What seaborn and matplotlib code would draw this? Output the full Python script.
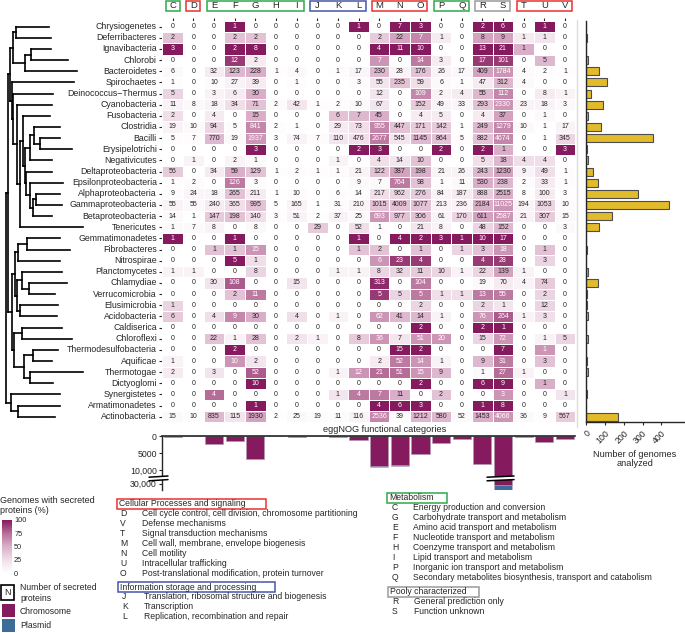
import numpy as np
import pandas as pd
import matplotlib
matplotlib.use("Agg")
import matplotlib.pyplot as plt
import seaborn as sns
from matplotlib.colors import LinearSegmentedColormap, Normalize
from matplotlib.cm import ScalarMappable
from matplotlib.patches import Rectangle, Polygon
from matplotlib.lines import Line2D

# ---------------- data ----------------
taxa = ["Chrysiogenetes", "Deferribacteres", "Ignavibacteria", "Chlorobi", "Bacteroidetes",
        "Spirochaetes", "Deinococcus\u2212Thermus", "Cyanobacteria", "Fusobacteria", "Clostridia",
        "Bacilli", "Erysipelotrichi", "Negativicutes", "Deltaproteobacteria", "Epsilonproteobacteria",
        "Alphaproteobacteria", "Gammaproteobacteria", "Betaproteobacteria", "Tenericutes",
        "Gemmatimonadetes", "Fibrobacteres", "Nitrospirae", "Planctomycetes", "Chlamydiae",
        "Verrucomicrobia", "Elusimicrobia", "Acidobacteria", "Caldiserica", "Chloroflexi",
        "Thermodesulfobacteria", "Aquificae", "Thermotogae", "Dictyoglomi", "Synergistetes",
        "Armatimonadetes", "Actinobacteria"]

categories = ["C", "D", "E", "F", "G", "H", "I", "J", "K", "L",
              "M", "N", "O", "P", "Q", "R", "S", "T", "U", "V"]

# number of secreted proteins (cell annotations)
counts = [
    [0, 0, 0, 1, 0, 0, 0, 0, 0, 1, 0, 7, 3, 0, 0, 2, 6, 0, 1, 0],
    [2, 0, 0, 2, 2, 0, 0, 0, 0, 0, 2, 22, 7, 1, 0, 8, 9, 1, 1, 0],
    [3, 0, 0, 2, 8, 0, 0, 0, 0, 0, 4, 11, 10, 0, 0, 13, 21, 1, 0, 0],
    [0, 0, 0, 12, 2, 0, 0, 0, 0, 0, 7, 0, 14, 3, 0, 17, 101, 0, 5, 0],
    [6, 0, 32, 123, 228, 1, 4, 0, 1, 17, 230, 28, 176, 26, 17, 409, 1784, 4, 2, 1],
    [1, 0, 10, 27, 39, 0, 1, 0, 0, 3, 55, 235, 59, 6, 1, 47, 312, 4, 0, 0],
    [5, 0, 3, 6, 30, 0, 0, 0, 0, 0, 12, 0, 109, 2, 4, 55, 112, 0, 8, 1],
    [11, 8, 18, 34, 71, 2, 42, 1, 2, 10, 67, 0, 152, 49, 33, 293, 2330, 23, 18, 3],
    [2, 0, 4, 0, 15, 0, 0, 0, 6, 7, 45, 0, 4, 5, 0, 4, 37, 0, 1, 0],
    [19, 10, 94, 5, 841, 2, 1, 0, 29, 73, 955, 447, 171, 142, 1, 249, 1279, 10, 1, 17],
    [5, 7, 770, 19, 1937, 3, 74, 7, 110, 476, 2677, 545, 1145, 864, 5, 882, 4674, 0, 1, 345],
    [0, 0, 0, 0, 3, 0, 0, 0, 0, 2, 3, 0, 0, 2, 0, 2, 1, 0, 0, 3],
    [0, 1, 0, 2, 1, 0, 0, 0, 1, 0, 4, 14, 10, 0, 0, 5, 18, 4, 4, 0],
    [56, 0, 34, 59, 129, 1, 2, 1, 1, 21, 122, 387, 198, 21, 26, 243, 1230, 9, 49, 1],
    [1, 2, 0, 126, 3, 0, 0, 0, 0, 9, 7, 764, 98, 1, 11, 530, 238, 2, 33, 1],
    [9, 24, 18, 265, 211, 1, 10, 0, 6, 14, 217, 962, 276, 84, 187, 888, 2515, 8, 100, 3],
    [55, 55, 240, 365, 995, 5, 165, 1, 31, 210, 1015, 4009, 1077, 213, 236, 2184, 11025, 194, 1053, 10],
    [14, 1, 147, 198, 140, 3, 51, 2, 37, 25, 693, 977, 306, 61, 170, 611, 2587, 21, 307, 15],
    [1, 7, 8, 0, 8, 0, 0, 29, 0, 52, 1, 0, 21, 8, 0, 48, 152, 0, 0, 3],
    [1, 0, 0, 1, 0, 0, 0, 0, 0, 1, 0, 4, 2, 3, 1, 10, 17, 0, 0, 0],
    [0, 0, 1, 1, 15, 0, 0, 0, 0, 1, 2, 0, 1, 0, 1, 3, 18, 0, 1, 0],
    [0, 0, 0, 5, 1, 0, 0, 0, 0, 0, 6, 23, 4, 0, 0, 4, 28, 0, 3, 0],
    [1, 1, 0, 0, 8, 0, 0, 0, 1, 1, 8, 32, 11, 10, 1, 22, 139, 1, 0, 0],
    [0, 0, 30, 108, 0, 0, 15, 0, 0, 0, 313, 0, 104, 0, 0, 19, 70, 4, 74, 0],
    [0, 0, 0, 2, 11, 0, 0, 0, 0, 0, 5, 5, 5, 1, 1, 13, 55, 0, 2, 0],
    [1, 0, 0, 0, 0, 0, 0, 0, 0, 0, 0, 0, 2, 0, 0, 2, 1, 0, 12, 0],
    [6, 0, 4, 9, 30, 0, 4, 0, 1, 0, 62, 41, 14, 1, 0, 76, 264, 1, 3, 0],
    [0, 0, 0, 0, 0, 0, 0, 0, 0, 0, 0, 0, 2, 0, 0, 2, 1, 0, 0, 0],
    [0, 0, 22, 1, 28, 0, 2, 1, 0, 8, 36, 7, 51, 20, 0, 15, 72, 0, 1, 5],
    [0, 0, 0, 2, 0, 0, 0, 0, 0, 0, 0, 15, 2, 0, 0, 0, 7, 0, 1, 0],
    [1, 0, 0, 10, 2, 0, 0, 0, 0, 0, 2, 52, 14, 1, 0, 9, 31, 0, 3, 0],
    [2, 0, 3, 0, 52, 0, 0, 0, 1, 12, 21, 51, 15, 9, 0, 1, 27, 1, 0, 0],
    [0, 0, 0, 0, 10, 0, 0, 0, 0, 0, 0, 0, 2, 0, 0, 6, 9, 0, 1, 0],
    [0, 0, 4, 0, 0, 0, 0, 0, 1, 4, 7, 11, 0, 2, 0, 0, 3, 0, 0, 1],
    [0, 0, 0, 0, 1, 0, 0, 0, 0, 0, 4, 6, 3, 0, 0, 1, 8, 0, 0, 0],
    [15, 10, 835, 115, 1930, 2, 25, 19, 11, 116, 2536, 39, 1212, 580, 52, 1453, 4066, 36, 9, 567],
]

# genomes with secreted proteins (%)
percent = [
    [0, 0, 0, 100, 0, 0, 0, 0, 0, 100, 0, 100, 100, 0, 0, 100, 100, 0, 100, 0],
    [40, 0, 0, 40, 40, 0, 0, 0, 0, 0, 35, 55, 65, 15, 0, 55, 55, 15, 20, 0],
    [100, 0, 0, 100, 100, 0, 0, 0, 0, 0, 100, 100, 100, 0, 0, 100, 100, 50, 0, 0],
    [0, 0, 0, 90, 15, 0, 0, 0, 0, 0, 60, 0, 70, 15, 0, 90, 90, 0, 45, 0],
    [5, 0, 15, 45, 50, 2, 5, 0, 2, 8, 45, 10, 40, 10, 6, 55, 60, 4, 3, 2],
    [2, 0, 3, 10, 15, 0, 2, 0, 0, 3, 20, 40, 25, 5, 2, 15, 45, 5, 0, 0],
    [30, 0, 10, 15, 50, 0, 0, 0, 0, 0, 20, 0, 65, 10, 15, 45, 65, 0, 15, 10],
    [10, 5, 10, 25, 40, 3, 20, 2, 2, 5, 20, 0, 35, 10, 8, 40, 60, 10, 10, 5],
    [25, 0, 15, 0, 50, 0, 0, 0, 40, 45, 50, 0, 15, 15, 0, 15, 55, 0, 5, 0],
    [10, 5, 30, 3, 65, 2, 1, 0, 15, 25, 65, 40, 35, 35, 1, 45, 65, 5, 1, 10],
    [2, 2, 45, 5, 60, 1, 10, 3, 20, 25, 70, 20, 45, 40, 2, 40, 65, 0, 1, 30],
    [0, 0, 0, 0, 100, 0, 0, 0, 0, 100, 100, 0, 0, 100, 0, 100, 50, 0, 0, 100],
    [0, 10, 0, 10, 5, 0, 0, 0, 10, 0, 25, 20, 40, 0, 0, 25, 45, 25, 25, 0],
    [35, 0, 15, 50, 40, 2, 2, 2, 3, 10, 40, 55, 50, 10, 10, 45, 55, 10, 25, 2],
    [2, 3, 0, 70, 3, 0, 0, 0, 0, 5, 5, 70, 40, 2, 5, 50, 45, 3, 15, 2],
    [3, 8, 8, 40, 15, 1, 3, 0, 2, 3, 25, 30, 35, 10, 15, 35, 50, 2, 15, 1],
    [10, 5, 15, 25, 40, 1, 10, 1, 3, 10, 40, 40, 40, 10, 10, 50, 60, 10, 30, 3],
    [5, 1, 35, 40, 25, 2, 10, 2, 10, 5, 60, 40, 40, 10, 30, 55, 60, 10, 35, 5],
    [5, 5, 10, 0, 5, 0, 0, 35, 0, 25, 2, 0, 20, 10, 0, 30, 45, 0, 0, 5],
    [100, 0, 0, 100, 0, 0, 0, 0, 0, 100, 0, 100, 100, 100, 100, 100, 100, 0, 0, 0],
    [0, 0, 40, 40, 60, 0, 0, 0, 0, 40, 40, 0, 40, 0, 30, 40, 60, 0, 40, 0],
    [0, 0, 0, 100, 25, 0, 0, 0, 0, 0, 60, 90, 90, 0, 0, 90, 90, 0, 30, 0],
    [10, 10, 0, 0, 30, 0, 0, 0, 10, 10, 30, 30, 35, 30, 10, 30, 55, 10, 0, 0],
    [0, 0, 20, 80, 0, 0, 20, 0, 0, 0, 95, 0, 70, 0, 0, 5, 15, 10, 35, 0],
    [0, 0, 0, 40, 70, 0, 0, 0, 0, 0, 90, 30, 70, 25, 25, 70, 70, 0, 30, 0],
    [30, 0, 0, 0, 0, 0, 0, 0, 0, 0, 0, 0, 30, 0, 0, 30, 20, 0, 30, 0],
    [35, 0, 25, 65, 50, 0, 25, 0, 10, 0, 60, 45, 45, 10, 0, 60, 80, 10, 25, 0],
    [0, 0, 0, 0, 0, 0, 0, 0, 0, 0, 0, 0, 100, 0, 0, 100, 100, 0, 0, 0],
    [0, 0, 40, 10, 40, 0, 20, 10, 0, 35, 60, 20, 60, 60, 0, 30, 60, 0, 10, 30],
    [0, 0, 0, 100, 0, 0, 0, 0, 0, 0, 0, 100, 100, 0, 0, 0, 100, 0, 60, 0],
    [10, 0, 0, 60, 20, 0, 0, 0, 0, 0, 15, 70, 60, 10, 0, 45, 70, 0, 40, 0],
    [15, 0, 20, 0, 80, 0, 0, 0, 10, 60, 75, 75, 60, 45, 0, 5, 75, 10, 0, 0],
    [0, 0, 0, 0, 100, 0, 0, 0, 0, 0, 0, 0, 100, 0, 0, 100, 100, 0, 50, 0],
    [0, 0, 75, 0, 0, 0, 0, 0, 20, 70, 70, 50, 0, 40, 0, 0, 60, 0, 0, 20],
    [0, 0, 0, 0, 100, 0, 0, 0, 0, 0, 100, 100, 100, 0, 0, 100, 100, 0, 0, 0],
    [5, 3, 45, 20, 55, 1, 5, 3, 3, 10, 65, 3, 45, 45, 5, 50, 60, 5, 2, 35],
]

genomes_analyzed = [1, 4, 2, 10, 68, 109, 25, 89, 9, 79, 357, 3, 10, 36, 62, 277, 443, 136, 71,
                    1, 4, 2, 8, 66, 5, 3, 10, 1, 10, 2, 7, 12, 1, 4, 1, 170]

# secreted proteins on plasmids per category (rest is chromosome)
plasmid = [0, 0, 20, 5, 60, 0, 5, 0, 5, 30, 300, 60, 40, 30, 5, 60, 2500, 10, 40, 30]

# phylogeny (Newick with branch lengths)
newick = ("(((((Chrysiogenetes:33,Deferribacteres:35):3,((Ignavibacteria:20,Chlorobi:37):6,"
          "Bacteroidetes:52):12):3,(Spirochaetes:62,(Deinococcus\u2212Thermus:40,(Cyanobacteria:35,"
          "((Fusobacteria:27,(((Clostridia:26,(Bacilli:20,Erysipelotrichi:32):6):4,Negativicutes:22):5,"
          "(Deltaproteobacteria:26,(Epsilonproteobacteria:33,((Alphaproteobacteria:24,"
          "Gammaproteobacteria:26):3,Betaproteobacteria:19):3):4):1):2):3,Tenericutes:63):3):4):1):2):2,"
          "((((Gemmatimonadetes:33,Fibrobacteres:43):9,Nitrospirae:42):3,((Planctomycetes:40,"
          "(Chlamydiae:38,Verrucomicrobia:26):7):5,(Elusimicrobia:38,Acidobacteria:37):3):2):3,"
          "((Caldiserica:40,Chloroflexi:50):8,((Thermodesulfobacteria:25,Aquificae:19):9,"
          "(Thermotogae:53,Dictyoglomi:23):6):10):2):4):2,(Synergistetes:49,(Armatimonadetes:42,"
          "Actinobacteria:37):7):5)")

header_groups = [("C", "C", "#2EA84B"), ("D", "D", "#E8322F"), ("E", "I", "#2EA84B"),
                 ("J", "L", "#4757AA"), ("M", "O", "#E8322F"), ("P", "Q", "#2EA84B"),
                 ("R", "S", "#9A9A9A"), ("T", "V", "#E8322F")]

cellular_items = [("D", "Cell cycle control, cell division, chromosome partitioning"),
                  ("V", "Defense mechanisms"),
                  ("T", "Signal transduction mechanisms"),
                  ("M", "Cell wall, membrane, envelope biogenesis"),
                  ("N", "Cell motility"),
                  ("U", "Intracellular trafficking"),
                  ("O", "Post-translational modification, protein turnover")]
info_items = [("J", "Translation, ribosomal structure and biogenesis"),
              ("K", "Transcription"),
              ("L", "Replication, recombination and repair")]
metab_items = [("C", "Energy production and conversion"),
               ("G", "Carbohydrate transport and metabolism"),
               ("E", "Amino acid transport and metabolism"),
               ("F", "Nucleotide transport and metabolism"),
               ("H", "Coenzyme transport and metabolism"),
               ("I", "Lipid transport and metabolism"),
               ("P", "Inorganic ion transport and metabolism"),
               ("Q", "Secondary metabolites biosynthesis, transport and catabolism")]
poor_items = [("R", "General prediction only"), ("S", "Function unknown")]

# ---------------- style ----------------
sns.set_theme(style="ticks")
plt.rcParams["font.family"] = ["Liberation Sans", "DejaVu Sans"]
plt.rcParams["axes.linewidth"] = 1.0

PURPLE = "#851A5E"
BLUE = "#3D6D96"
GOLD = "#E2BB2B"
cmap = LinearSegmentedColormap.from_list(
    "sec", [(0.0, "#FFFFFF"), (0.25, "#F0DEE8"), (0.5, "#DAAFC8"),
            (0.75, "#B66D98"), (1.0, PURPLE)])

W, H = 685, 633
fig = plt.figure(figsize=(W / 100, H / 100), dpi=100)


def ax_px(x0, y0, x1, y1):
    return fig.add_axes([x0 / W, 1 - y1 / H, (x1 - x0) / W, (y1 - y0) / H])


def fx(x):
    return x / W


def fy(y):
    return 1 - y / H


HX0, HX1, HY0, HY1 = 162.4, 575.3, 21.1, 422.3

# ---------------- tree ----------------
def parse_newick(s):
    pos = 0

    def node():
        nonlocal pos
        kids = []
        name = None
        if s[pos] == "(":
            pos += 1
            kids.append(node())
            while s[pos] == ",":
                pos += 1
                kids.append(node())
            pos += 1
        else:
            st = pos
            while s[pos] not in ":,)":
                pos += 1
            name = s[st:pos]
        length = 0.0
        if pos < len(s) and s[pos] == ":":
            pos += 1
            st = pos
            while pos < len(s) and s[pos] not in ",)":
                pos += 1
            length = float(s[st:pos])
        return {"name": name, "kids": kids, "len": length}

    return node()


axt = ax_px(0, HY0, 100, HY1)
axt.set_xlim(0, 100)
axt.set_ylim(len(taxa), 0)
axt.axis("off")
leaf_y = {n: i + 0.5 for i, n in enumerate(taxa)}
tkw = dict(color="black", lw=1.2, solid_capstyle="projecting")


def draw(node, x0):
    x = x0 + node["len"]
    if not node["kids"]:
        y = leaf_y[node["name"]]
        axt.plot([x0, x], [y, y], **tkw)
        return y
    ys = [draw(k, x) for k in node["kids"]]
    y = (ys[0] + ys[-1]) / 2
    axt.plot([x, x], [min(ys), max(ys)], **tkw)
    axt.plot([x0, x], [y, y], **tkw)
    return y


draw(parse_newick(newick), 6)

# ---------------- heatmap ----------------
pct_df = pd.DataFrame(percent, index=taxa, columns=categories)
cnt = np.array(counts)
axh = ax_px(HX0, HY0, HX1, HY1)
sns.heatmap(pct_df, ax=axh, cmap=cmap, vmin=0, vmax=100, annot=cnt, fmt="d",
            annot_kws={"size": 5.0}, cbar=False, linewidths=0.5, linecolor="white",
            xticklabels=categories, yticklabels=taxa)
axh.set_xlabel("")
axh.set_ylabel("")
axh.tick_params(axis="y", left=True, length=2.5, width=0.8, pad=1.5, labelsize=6.3, rotation=0)
axh.tick_params(axis="x", top=True, bottom=False, labeltop=False, labelbottom=False,
                length=2.5, width=0.8)
for i, c in enumerate(categories):
    axh.text(i + 0.5, -1.38, c, ha="center", va="center", fontsize=6.8, clip_on=False)
for a, b, col in header_groups:
    i0, i1 = categories.index(a), categories.index(b)
    axh.add_patch(Rectangle((i0 + 0.16, -1.83), (i1 - i0) + 0.68, 0.9, fill=False,
                            edgecolor=col, lw=1.1, clip_on=False))

fig.add_artist(Line2D([fx(577), fx(577)], [fy(20), fy(427)], color="#DDDDDD", lw=1))

# ---------------- right bars: genomes analyzed ----------------
axr = ax_px(586, HY0, 684, HY1)
gdf = pd.DataFrame({"taxon": taxa, "n": genomes_analyzed})
sns.barplot(data=gdf, x="n", y="taxon", orient="h", color=GOLD, edgecolor="#4D4D4D",
            linewidth=0.8, width=0.72, errorbar=None, saturation=1, ax=axr)
axr.set_ylim(len(taxa) - 0.5, -0.5)
axr.set_xlim(0, 520)
axr.set_yticks([])
axr.set_ylabel("")
axr.set_xticks([0, 100, 200, 300, 400])
axr.set_xticklabels(["0", "100", "200", "300", "400"], rotation=45, ha="right",
                    rotation_mode="anchor", fontsize=6.3)
axr.tick_params(axis="x", length=2.5, width=0.8, pad=2)
axr.set_xlabel("Number of genomes\nanalyzed", fontsize=6.6, labelpad=3, linespacing=1.1)
sns.despine(ax=axr)

# ---------------- bottom bars: secreted proteins per category ----------------
totals = cnt.sum(axis=0)
bdf = pd.DataFrame({"cat": categories, "total": totals,
                    "chrom": totals - np.array(plasmid)})
axb1 = ax_px(HX0, 436, HX1, 477)
axb2 = ax_px(HX0, 480, HX1, 490)
for a in (axb1, axb2):
    sns.barplot(data=bdf, x="cat", y="total", color=BLUE, width=0.88, errorbar=None,
                saturation=1, edgecolor="#C8B8C6", linewidth=0.4, ax=a)
    sns.barplot(data=bdf, x="cat", y="chrom", color=PURPLE, width=0.88, errorbar=None,
                saturation=1, edgecolor="#C8B8C6", linewidth=0.4, ax=a)
    a.set_xlim(-0.5, len(categories) - 0.5)
    a.set_xticks([])
    a.set_xlabel("")
    a.set_ylabel("")
    a.spines["right"].set_visible(False)
    a.spines["bottom"].set_visible(False)
    a.tick_params(axis="y", length=2.5, width=0.8, pad=1.5, labelsize=6.3)
axb1.set_ylim(12000, 0)
axb1.set_yticks([0, 5000, 10000])
axb1.set_yticklabels(["0", "5000", "10,000"])
axb1.spines["top"].set_linewidth(1.2)
axb2.set_ylim(33500, 28000)
axb2.set_yticks([30000])
axb2.set_yticklabels(["30,000"])
axb2.spines["top"].set_visible(False)

fig.text(fx(385), fy(430), "eggNOG functional categories", ha="center", va="center", fontsize=6.6)

# axis-break marks
s_center = HX0 + (categories.index("S") + 0.5) * (HX1 - HX0) / len(categories)
for (xa, xb) in [(149, 168), (s_center - 16, s_center + 11)]:
    fig.add_artist(Polygon([[fx(xa), fy(477.2)], [fx(xb), fy(476.0)],
                            [fx(xb), fy(479.6)], [fx(xa), fy(480.8)]],
                           closed=True, facecolor="white", edgecolor="none"))
    for ya, yb in [(477.2, 476.0), (480.8, 479.6)]:
        fig.add_artist(Line2D([fx(xa), fx(xb)], [fy(ya), fy(yb)], color="black", lw=1.1))

# ---------------- legends ----------------
LFS = 6.2
fig.text(fx(0), fy(496), "Genomes with secreted\nproteins (%)", ha="left", va="top",
         fontsize=6.5, linespacing=1.1)
cax = ax_px(2, 520, 12, 573)
sm = ScalarMappable(norm=Normalize(0, 100), cmap=cmap)
cb = fig.colorbar(sm, cax=cax)
cb.set_ticks([0, 25, 50, 75, 100])
cb.outline.set_visible(False)
cb.ax.tick_params(labelsize=5.3, length=2, width=0.6, color="white", direction="in", pad=1.5)

fig.add_artist(Rectangle((fx(1), fy(600)), 13 / W, 15 / H, fill=False, edgecolor="black", lw=1.2))
fig.text(fx(7.5), fy(592.5), "N", ha="center", va="center", fontsize=6.5)
fig.text(fx(20), fy(593), "Number of secreted\nproteins", ha="left", va="center",
         fontsize=LFS, linespacing=1.15)
fig.add_artist(Rectangle((fx(2), fy(617)), 13 / W, 13 / H, facecolor=PURPLE, edgecolor="none"))
fig.text(fx(20), fy(611), "Chromosome", ha="left", va="center", fontsize=LFS)
fig.add_artist(Rectangle((fx(2), fy(632)), 13 / W, 13 / H, facecolor=BLUE, edgecolor="none"))
fig.text(fx(20), fy(626), "Plasmid", ha="left", va="center", fontsize=LFS)


def legend_block(title, items, color, bx0, bx1, by0, lx, dx):
    fig.add_artist(Rectangle((fx(bx0), fy(by0 + 10)), (bx1 - bx0) / W, 10 / H,
                             fill=False, edgecolor=color, lw=1.1))
    fig.text(fx(bx0 + 2), fy(by0 + 5), title, ha="left", va="center", fontsize=LFS)
    for k, (letter, desc) in enumerate(items):
        yy = by0 + 14.5 + 10 * k
        fig.text(fx(lx), fy(yy), letter, ha="left", va="center", fontsize=LFS)
        fig.text(fx(dx), fy(yy), desc, ha="left", va="center", fontsize=LFS)


legend_block("Cellular Processes and signaling", cellular_items, "#E8322F", 117, 266, 499, 120, 142)
legend_block("Information storage and processing", info_items, "#4757AA", 118, 275, 582, 122, 144)
legend_block("Metabolism", metab_items, "#2EA84B", 387, 447, 493, 392, 413)
legend_block("Pooly characterized", poor_items, "#9A9A9A", 388, 479, 587, 392, 414)

fig.savefig("out.png", dpi=100)
